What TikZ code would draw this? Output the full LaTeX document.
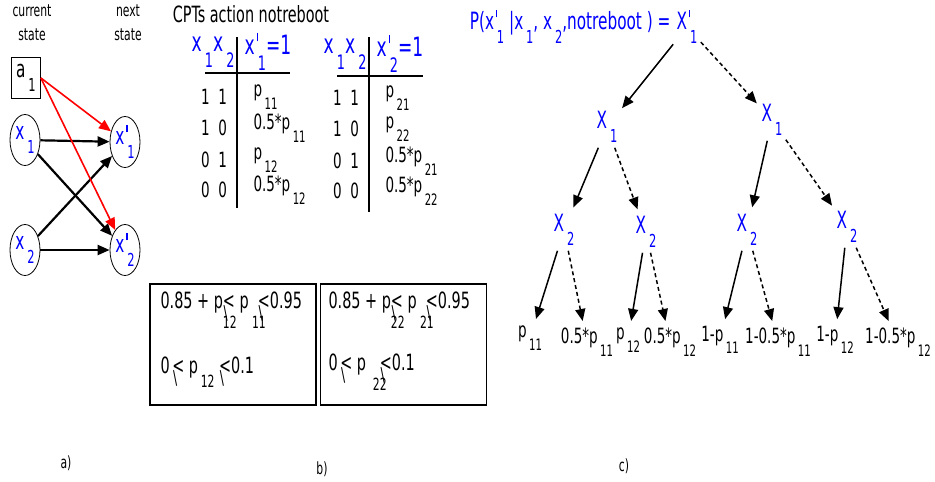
\documentclass[tikz,border=0pt]{standalone}
\usepackage{fontspec}
\setmainfont{DejaVu Sans Condensed}
\usetikzlibrary{arrows.meta,positioning,shapes.geometric}

% low subscripts and primes, as the figure sets them
\newcommand\lo[1]{\,\raisebox{-0.6em}{\scalebox{0.75}{#1}}}
\newcommand\pr{\rlap{\kern0.12em\raisebox{0.5em}{\rule{1.2pt}{0.3em}}}}
\newcommand\bleq{\rlap{\raisebox{-0.5em}{\kern0.05em\scalebox{0.85}{\textbackslash}}}<}
\newcommand\under[1]{\rlap{\raisebox{-0.9em}{\scalebox{0.75}{#1}}}}
\newcommand\tall[1]{\scalebox{1}[1.4]{#1}}

\begin{document}
\begin{tikzpicture}[x=1pt,y=-1pt,
  tall/.style={yscale=1.4,transform shape},
  txt/.style={tall,font=\fontsize{12}{17}\selectfont,align=center},
  var/.style={draw,ellipse,thick,minimum width=30pt,minimum height=51pt,inner sep=0pt,text=blue,font=\fontsize{17}{17}\selectfont},
  act/.style={draw,thick,minimum width=29pt,minimum height=41pt,inner sep=0pt,font=\fontsize{17}{17}\selectfont},
  infl/.style={-{Triangle[length=12pt,width=10pt]},line width=2.2pt},
  hdr/.style={tall,text=blue,font=\fontsize{19}{19}\selectfont},
  row/.style={tall,font=\fontsize{15}{15}\selectfont},
  cbox/.style={draw,very thick,minimum width=166pt,minimum height=121pt},
  ctext/.style={tall,anchor=west,font=\fontsize{16}{16}\selectfont},
  tvar/.style={tall,text=blue,font=\fontsize{17}{17}\selectfont},
  leaf/.style={tall,font=\fontsize{15}{15}\selectfont},
  yes/.style={-{Triangle[length=12pt,width=10pt]},line width=1.5pt,shorten >=2pt},
  no/.style={yes,dash pattern=on 4pt off 3pt}
]
\useasboundingbox (0,0) rectangle (935,482);

% a) two-slice network
\node[txt] (cur) at (32,23) {current\\state};
\node[txt] (nxt) at (128,23) {next\\state};
\node[act] (a1) at (26,78) {\tall{a\lo{1}}};
\node[var] (x1) at (25,140) {\tall{x\lo{1}}};
\node[var] (x2) at (25,250) {\tall{x\lo{2}}};
\node[var] (x1n) at (125,142) {\tall{x\pr\lo{1}}};
\node[var] (x2n) at (125,250) {\tall{x\pr\lo{2}}};
\foreach \a/\b in {x1/x1n,x1/x2n,x2/x1n,x2/x2n}
  \draw[infl] (\a) -- (\b);
\draw[infl,red,line width=1.6pt] (a1.east) -- (x1n);
\draw[infl,red,line width=1.6pt] (a1.east) -- (x2n);

% b) CPTs
\node[tall,font=\fontsize{16}{16}\selectfont] (cpt) at (251,14) {CPTs action notreboot};
\node[hdr] (h1a) at (213,52) {x\lo{1}x\lo{2}};
\node[hdr] (h1b) at (268,52) {x\pr\lo{1}=1};
\draw[very thick] (237,37) -- (237,208);
\draw[very thick] (205,73) -- (290,73);
\node[hdr] (h2a) at (345,54) {x\lo{1}x\lo{2}};
\node[hdr] (h2b) at (400,54) {x\pr\lo{2}=1};
\draw[very thick] (369,37) -- (369,212);
\draw[very thick] (337,76) -- (423,76);
\foreach \i/\y/\c/\u/\v in {1/97/1\ \ 1/p\lo{11}/p\lo{21},
                             2/128/1\ \ 0/0.5*p\lo{11}/p\lo{22},
                             3/160/0\ \ 1/p\lo{12}/0.5*p\lo{21},
                             4/190/0\ \ 0/0.5*p\lo{12}/0.5*p\lo{22}}{
  \node[row] (k1\i) at (214,\y) {\c};
  \node[row,anchor=west] (v1\i) at (250,\y) {\u};
  \node[row] (k2\i) at (346,\y+1) {\c};
  \node[row,anchor=west] (v2\i) at (382,\y+1) {\v};
}
\node[cbox] (c1) at (233,344.5) {};
\node[cbox] (c2) at (403.5,344.5) {};
\node[ctext] (c1a) at (157,310) {0.85 + p\under{12}\bleq\ p\under{\ 11}\ \ \bleq0.95};
\node[ctext] (c1b) at (157,372) {0\,\bleq\ p\lo{12}\ \bleq0.1};
\node[ctext] (c2a) at (325,310) {0.85 + p\under{22}\bleq\ p\under{\ 21}\ \ \bleq0.95};
\node[ctext] (c2b) at (325,372) {0\,\bleq\ p\under{\ \ 22}\ \ \ \bleq0.1};

% c) tree
\node[tvar,anchor=east] (q) at (674,27) {P(x\pr\lo{1} |x\lo{1}, x\lo{2},notreboot ) =};
\node[tvar] (root) at (687,27) {X\pr\lo{1}};
\node[tvar] (l) at (607,127) {X\lo{1}};
\node[tvar] (r) at (772,120) {X\lo{1}};
\node[tvar] (ll) at (564,230) {X\lo{2}};
\node[tvar] (lr) at (646,232) {X\lo{2}};
\node[tvar] (rl) at (747,230) {X\lo{2}};
\node[tvar] (rr) at (847,227) {X\lo{2}};
\node[leaf] (f1) at (530,338) {p\lo{11}};
\node[leaf] (f2) at (587,342) {0.5*p\lo{11}};
\node[leaf] (f3) at (628,340) {p\lo{12}};
\node[leaf] (f4) at (670,342) {0.5*p\lo{12}};
\node[leaf] (f5) at (720,340) {1-p\lo{11}};
\node[leaf] (f6) at (778,342) {1-0.5*p\lo{11}};
\node[leaf] (f7) at (835,340) {1-p\lo{12}};
\node[leaf] (f8) at (898,342) {1-0.5*p\lo{12}};
\foreach \a/\b in {root/l,l/ll,r/rl,ll/f1,lr/f3,rl/f5,rr/f7}
  \draw[yes] (\a) -- (\b);
\foreach \a/\b in {root/r,l/lr,r/rr,ll/f2,lr/f4,rl/f6,rr/f8}
  \draw[no] (\a) -- (\b);

\node[tall,font=\fontsize{12}{12}\selectfont] (la) at (66,463) {a)};
\node[tall,font=\fontsize{12}{12}\selectfont] (lb) at (322,469) {b)};
\node[tall,font=\fontsize{12}{12}\selectfont] (lc) at (624,466) {c)};
\end{tikzpicture}
\end{document}
